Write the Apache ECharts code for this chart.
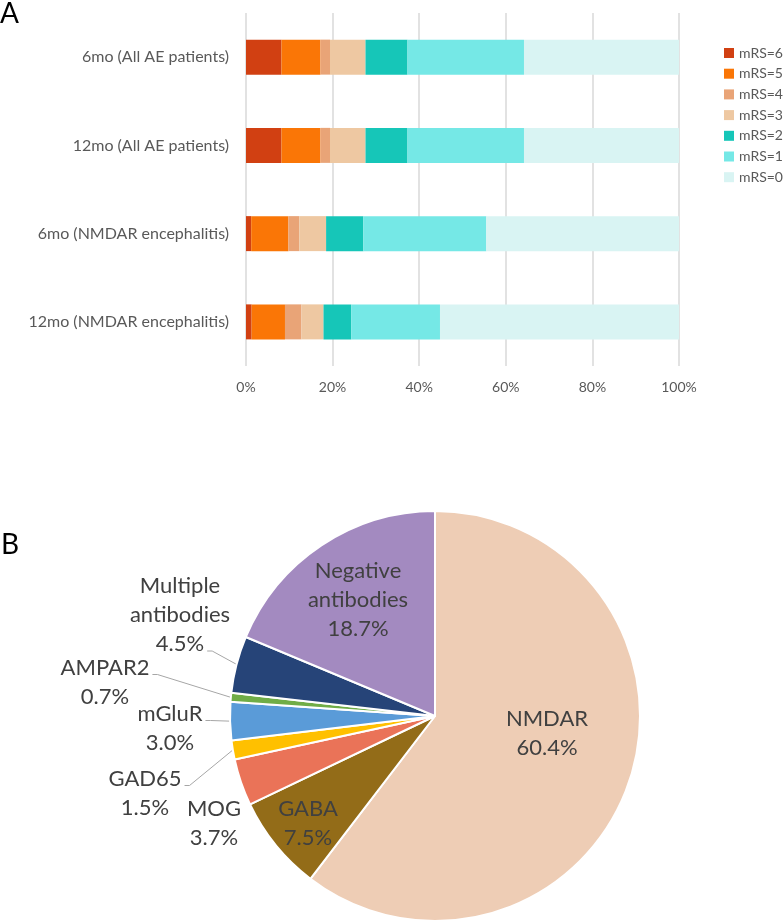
<!DOCTYPE html>
<html>
<head>
<meta charset="utf-8">
<script src="https://cdn.jsdelivr.net/npm/echarts@6/dist/echarts.min.js"></script>
<style>
html, body { margin: 0; padding: 0; background: #fff; }
#chart { width: 784px; height: 924px; }
</style>
</head>
<body>
<div id="chart"></div>
<script>
// panel A: outcome (mRS) by follow-up, % of patients
var groups = ['6mo (All AE patients)', '12mo (All AE patients)', '6mo (NMDAR encephalitis)', '12mo (NMDAR encephalitis)'];
var mrsNames = ['mRS=6', 'mRS=5', 'mRS=4', 'mRS=3', 'mRS=2', 'mRS=1', 'mRS=0'];
var mrs6 = [8.2, 8.2, 1.2, 1.3];
var mrs5 = [9.0, 9.0, 8.6, 7.7];
var mrs4 = [2.2, 2.2, 2.5, 3.8];
var mrs3 = [8.2, 8.2, 6.2, 5.1];
var mrs2 = [9.7, 9.7, 8.6, 6.4];
var mrs1 = [26.9, 26.9, 28.4, 20.5];
var mrs0 = [35.8, 35.8, 44.5, 55.2];

// panel B: antibody types
var antibodyNames = ['NMDAR', 'GABA', 'MOG', 'GAD65', 'mGluR', 'AMPAR2', 'Multiple antibodies', 'Negative antibodies'];
var antibodyShares = [60.4, 7.5, 3.7, 1.5, 3.0, 0.7, 4.5, 18.7];

var mrsColors = ['#d14012', '#fa7606', '#e9a477', '#eec8a2', '#16c6b8', '#75e8e6', '#d9f4f3'];
var antibodyColors = ['#eecdb5', '#936c18', '#ea7358', '#ffc000', '#5a9bd8', '#70ad47', '#264478', '#a38ac0'];
// where each pie label sits (centre of the text block)
var labelSpots = [[547, 733], [308, 823], [214, 823], [145, 793], [170, 728], [105, 682], [180, 615], [358, 600]];
// which text line the leader line leaves from (labels without one get none)
var lineFrom = { 'GAD65': 0, 'mGluR': 0, 'AMPAR2': 0, 'Multiple antibodies': 2 };

var font = 'Lato, "Noto Sans", sans-serif';
var pieFontSize = 22;
var pieLineH = 29;
var mrsData = [mrs6, mrs5, mrs4, mrs3, mrs2, mrs1, mrs0];

var ctx = document.createElement('canvas').getContext('2d');
ctx.font = pieFontSize + 'px ' + font;

function pieText(name, value) {
    return name.replace(' ', '\n') + '\n' + value.toFixed(1) + '%';
}

var barSeries = mrsNames.map(function (n, i) {
    return {
        name: n,
        type: 'bar',
        stack: 'all',
        barWidth: 35,
        itemStyle: { color: mrsColors[i] },
        emphasis: { disabled: true },
        data: mrsData[i]
    };
});

var pieData = antibodyNames.map(function (n, i) {
    var d = { name: n, value: antibodyShares[i], itemStyle: { color: antibodyColors[i] } };
    if (lineFrom[n] == null) d.labelLine = { show: false };
    return d;
});

var chart = echarts.init(document.getElementById('chart'));
chart.setOption({
    animation: false,
    textStyle: { fontFamily: font },
    graphic: [
        { type: 'text', left: 0, top: 0, style: { text: 'A', fontSize: 28, fontFamily: font, fill: '#000' } },
        { type: 'text', left: 1, top: 531, style: { text: 'B', fontSize: 28, fontFamily: font, fill: '#000' } }
    ],
    legend: {
        orient: 'vertical',
        left: 719,
        top: 41,
        icon: 'rect',
        itemWidth: 10,
        itemHeight: 10,
        itemGap: 6.7,
        data: mrsNames,
        textStyle: { color: '#595959', fontSize: 14, lineHeight: 10, fontFamily: font }
    },
    grid: { left: 246, right: 105, top: 13, bottom: 558 },
    xAxis: {
        type: 'value',
        min: 0,
        max: 100,
        interval: 20,
        axisLine: { show: false },
        axisTick: { show: false },
        splitLine: { lineStyle: { color: '#d9d9d9', width: 1.5 } },
        axisLabel: { color: '#595959', fontSize: 14, margin: 14, formatter: '{value}%' }
    },
    yAxis: {
        type: 'category',
        inverse: true,
        data: groups,
        axisLine: { show: false },
        axisTick: { show: false },
        axisLabel: { color: '#595959', fontSize: 16, margin: 17 }
    },
    series: barSeries.concat([{
        type: 'pie',
        center: [435, 716],
        radius: 205,
        startAngle: 90,
        clockwise: true,
        avoidLabelOverlap: false,
        emphasis: { disabled: true },
        itemStyle: { borderColor: '#fff', borderWidth: 2 },
        label: {
            show: true,
            position: 'outside',
            color: '#404040',
            fontSize: pieFontSize,
            lineHeight: pieLineH,
            fontFamily: font,
            formatter: function (p) { return pieText(p.name, p.value); }
        },
        labelLine: { show: true, lineStyle: { color: '#a6a6a6', width: 1 } },
        labelLayout: function (p) {
            var s = labelSpots[p.dataIndex];
            var out = { x: s[0], y: s[1], align: 'center', verticalAlign: 'middle' };
            var name = antibodyNames[p.dataIndex];
            var k = lineFrom[name];
            if (k != null && p.labelLinePoints) {
                var lines = pieText(name, antibodyShares[p.dataIndex]).split('\n');
                var ly = s[1] + (k - (lines.length - 1) / 2) * pieLineH + 7;
                var lx = s[0] + ctx.measureText(lines[k]).width / 2 + 3;
                out.labelLinePoints = [p.labelLinePoints[0].slice(), [lx + 5, ly], [lx, ly]];
            }
            return out;
        },
        data: pieData
    }])
});
</script>
</body>
</html>
